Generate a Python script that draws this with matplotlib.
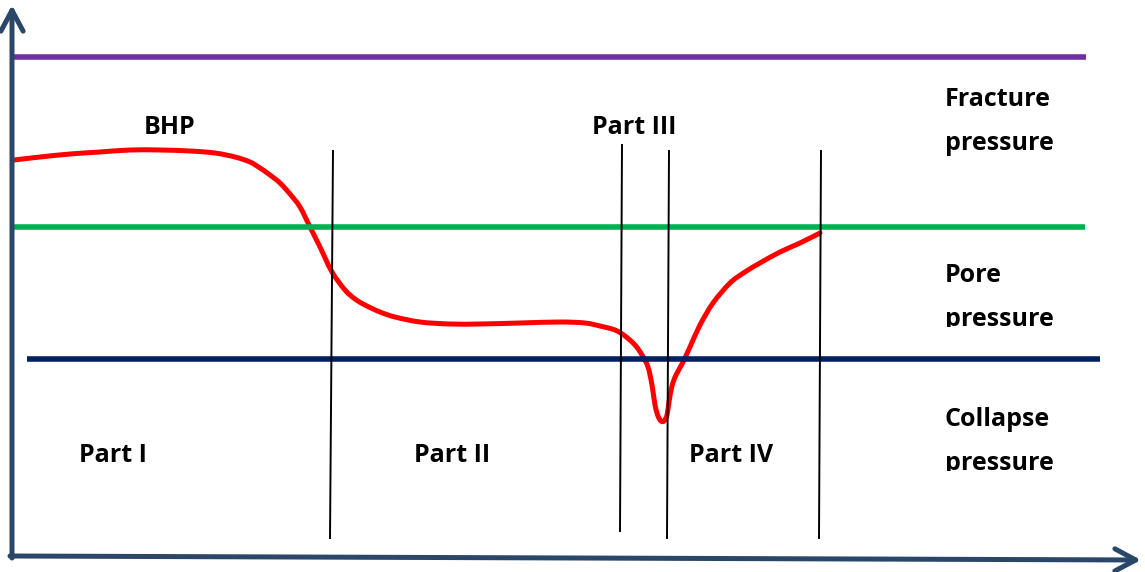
import matplotlib
matplotlib.use("Agg")
import matplotlib.pyplot as plt
from matplotlib.patches import Rectangle, ArrowStyle, PathPatch
from matplotlib.path import Path

# ---- data (schematic, pixel-like coordinates: x to the right, y downwards) ----
bhp_x = [14, 40, 70, 100, 130, 160, 190, 215, 235, 250, 260, 270, 280, 290, 300,
         310, 320, 332, 345, 355, 365, 380, 395, 420, 450, 480, 520, 560, 585, 600,
         615, 625, 635, 642, 648, 652, 655, 658, 661, 664, 667, 669, 672, 676, 682,
         690, 700, 713, 730, 745, 760, 780, 800, 820]
bhp_y = [160, 157, 154, 152, 150, 150, 151, 153, 157, 162, 168, 175, 183, 194, 207,
         227, 247, 272, 290, 299, 305, 312, 317, 322, 324, 324, 323, 322, 323, 326,
         330, 336, 345, 355, 367, 385, 405, 416, 421, 421, 415, 402, 386, 375, 364,
         347, 325, 303, 283, 272, 263, 252, 243, 233]

fracture_level = 57
pore_level = 227
collapse_level = 359

# vertical part dividers: (x_top, y_top, x_bottom, y_bottom)
dividers = [(333, 151, 330, 538),
            (622, 145, 620, 531),
            (669, 151, 667, 538),
            (821, 151, 819, 538)]

part_labels = ["Part I", "Part II", "Part III", "Part IV"]
part_pos = [(113, 455), (452, 455), (634, 128), (731, 455)]

fig = plt.figure(figsize=(11.45, 5.72), dpi=100)
ax = fig.add_axes([0, 0, 1, 1])
ax.set_xlim(0, 1145)
ax.set_ylim(572, 0)
ax.axis("off")

FONT = "Open Sans"
FS = 18

axis_color = "#2A4669"

# axes arrows
style = ArrowStyle("->", head_length=15, head_width=8)
ax.annotate("", xy=(12, 5), xytext=(12, 558),
            arrowprops=dict(arrowstyle=style, color=axis_color, lw=3.6,
                            mutation_scale=1, shrinkA=0, shrinkB=0))
ax.annotate("", xy=(1141, 560), xytext=(10, 556),
            arrowprops=dict(arrowstyle=style, color=axis_color, lw=3.6,
                            mutation_scale=1, shrinkA=0, shrinkB=0))

# horizontal pressure lines
ax.plot([14, 1086], [fracture_level, fracture_level], color="#7030A0", lw=4, solid_capstyle="butt")
ax.plot([10, 1085], [pore_level, pore_level], color="#00B050", lw=4, solid_capstyle="butt")
ax.plot([27, 1100], [collapse_level, collapse_level], color="#002060", lw=4, solid_capstyle="butt")

# dividers
for (xt, yt, xb, yb) in dividers:
    ax.plot([xt, xb], [yt, yb], color="black", lw=1.4)

# BHP curve drawn as a smooth Bezier path through the read points
pts = list(zip(bhp_x, bhp_y))
verts = [pts[0]]
codes = [Path.MOVETO]
n = len(pts)
for i in range(n - 1):
    p0 = pts[max(i - 1, 0)]
    p1 = pts[i]
    p2 = pts[i + 1]
    p3 = pts[min(i + 2, n - 1)]
    c1 = (p1[0] + (p2[0] - p0[0]) / 6.0, p1[1] + (p2[1] - p0[1]) / 6.0)
    c2 = (p2[0] - (p3[0] - p1[0]) / 6.0, p2[1] - (p3[1] - p1[1]) / 6.0)
    verts += [c1, c2, p2]
    codes += [Path.CURVE4] * 3
ax.add_patch(PathPatch(Path(verts, codes), facecolor="none", edgecolor="#FF0000",
                       lw=3.6, joinstyle="round", capstyle="round"))

# labels
ax.text(170, 128, "BHP", fontsize=FS, fontweight="bold", family=FONT, ha="center", va="center")
for lab, (x, y) in zip(part_labels, part_pos):
    ax.text(x, y, lab, fontsize=FS, fontweight="bold", family=FONT, ha="center", va="center")

def block(x, y1, y2, l1, l2, clip_bottom=None):
    for y, s in ((y1, l1), (y2, l2)):
        t = ax.text(x, y, s, fontsize=FS, fontweight="bold", family=FONT, ha="left", va="center")
        if clip_bottom is not None:
            r = Rectangle((x - 10, y - 40), 200, clip_bottom - (y - 40),
                          transform=ax.transData, fill=False, visible=False)
            ax.add_patch(r)
            t.set_clip_path(r)
            t.set_clip_on(True)

block(945, 99, 143, "Fracture", "pressure")
block(945, 275, 319, "Pore", "pressure", clip_bottom=327)
block(945, 419, 463, "Collapse", "pressure", clip_bottom=471)

fig.savefig("out.png", dpi=100)
